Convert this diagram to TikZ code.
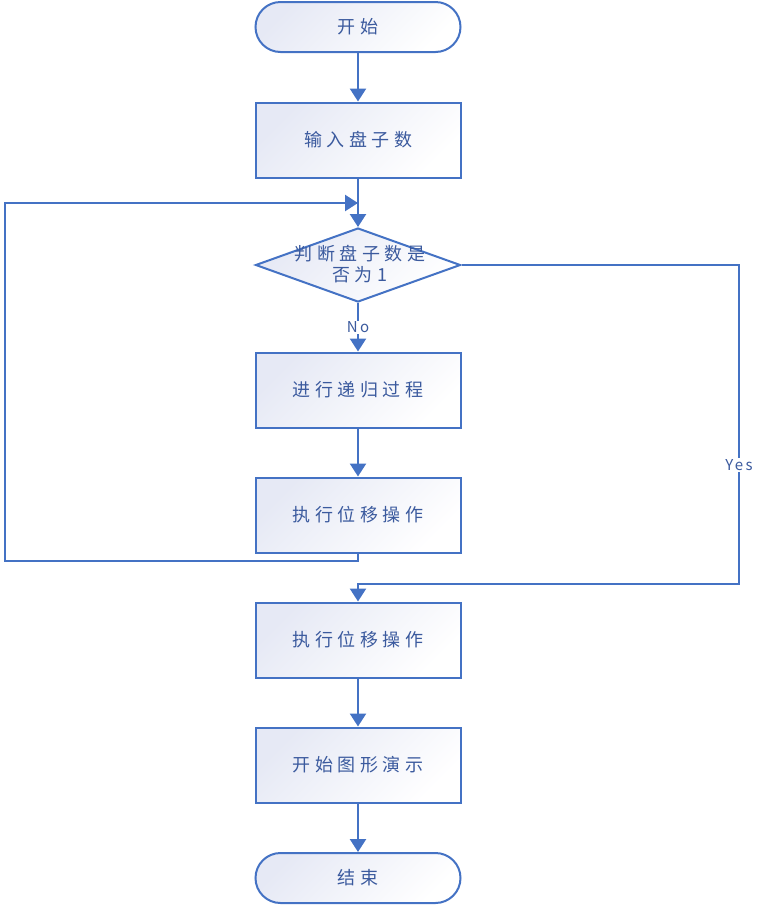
\documentclass[tikz,border=0pt]{standalone}
\usepackage{fontspec}
\usepackage{tikz}
\usetikzlibrary{shapes.geometric,arrows.meta}
\setmainfont{Noto Sans CJK SC}[LetterSpace=25]
\newfontfamily\tagfont{Noto Sans CJK SC}[LetterSpace=15]
\definecolor{flowline}{HTML}{4472C4}
\definecolor{flowtext}{HTML}{3B5A9E}
\definecolor{flowfill}{HTML}{E6E9F5}

\begin{document}
\begin{tikzpicture}[x=1pt, y=-1pt]
  \tikzset{every node/.style={text=flowtext, font=\fontsize{18}{21}\selectfont, align=center},
           box/.style={draw=flowline, line width=2pt, top color=flowfill, bottom color=white,
                       shading angle=45, minimum width=205pt, minimum height=75pt, inner sep=0pt},
           term/.style={box, minimum height=50pt, rounded corners=25pt},
           decide/.style={box, diamond, minimum height=74pt},
           flow/.style={draw=flowline, line width=2.5pt, -{Triangle[width=16pt,length=13pt]}},
           tag/.style={fill=white, inner sep=1pt, font=\tagfont\fontsize{15}{17}\selectfont}}
  \useasboundingbox (0,0) rectangle (768,906);
  \node[term] (start) at (358,27) {开始};
  \node[box] (input) at (358,140) {输入盘子数};
  \node[decide] (judge) at (358,265) {};
  \node (judgetext) at (360,264) {判断盘子数是\\否为1};
  \node[box] (recur) at (358,390) {进行递归过程};
  \node[box] (move1) at (358,515) {执行位移操作};
  \node[box] (move2) at (358,640) {执行位移操作};
  \node[box] (show) at (358,765) {开始图形演示};
  \node[term] (stop) at (358,878) {结束};
  \coordinate (loopa) at (5,561);
  \coordinate (loopb) at (358,203);
  \coordinate (yesa) at (739,584);
  \draw[flow] (start) -- (input);
  \draw[flow] (input) -- (judge);
  \draw[flow] (judge) -- node[tag] (no) {No} (recur);
  \draw[flow] (recur) -- (move1);
  \draw[flow] (move1.south) |- (loopa) |- (loopb);
  \draw[flow] (judge.east) -| (yesa) -| (move2.north);
  \node[tag] (yes) at (739,465) {Yes};
  \draw[flow] (move2) -- (show);
  \draw[flow] (show) -- (stop);
\end{tikzpicture}
\end{document}
